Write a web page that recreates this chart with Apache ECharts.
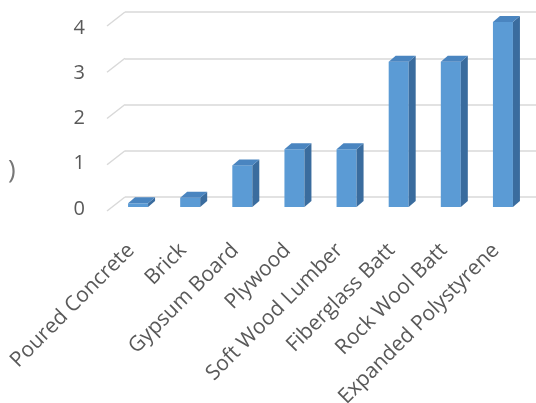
<!DOCTYPE html>
<html>
<head>
<meta charset="utf-8">
<script src="https://cdn.jsdelivr.net/npm/echarts@6/dist/echarts.min.js"></script>
<style>
  html, body { margin: 0; padding: 0; background: #fff; }
  #chart { width: 536px; height: 403px; }
</style>
</head>
<body>
<div id="chart"></div>
<script>
var categories = ['Poured Concrete', 'Brick', 'Gypsum Board', 'Plywood', 'Soft Wood Lumber',
    'Fiberglass Batt', 'Rock Wool Batt', 'Expanded Polystyrene'];
var rValues = [0.08, 0.2, 0.9, 1.25, 1.25, 3.14, 3.14, 4.0];
var yTicks = [0, 1, 2, 3, 4];

var chart = echarts.init(document.getElementById('chart'));
var textColor = '#595959';
var fontName = 'Open Sans';

// 3d looking column: front face, side face, top face
function renderBar(params, api) {
    var idx = api.value(0);
    var top = api.coord([idx, api.value(1)]);
    var base = api.coord([idx, 0]);
    var half = 10, dx = 7, dy = 6;
    var cx = top[0];
    return {
        type: 'group',
        children: [{
            type: 'rect',
            shape: { x: cx - half, y: top[1], width: half * 2, height: base[1] - top[1] },
            style: { fill: '#5b9bd5' }
        }, {
            type: 'polygon',
            shape: { points: [[cx + half, top[1]], [cx + half + dx, top[1] - dy], [cx + half + dx, base[1] - dy], [cx + half, base[1]]] },
            style: { fill: '#3a6c9e' }
        }, {
            type: 'polygon',
            shape: { points: [[cx - half, top[1]], [cx - half + dx, top[1] - dy], [cx + half + dx, top[1] - dy], [cx + half, top[1]]] },
            style: { fill: '#4a85c0' }
        }]
    };
}

// side wall lines going from back wall to the front
function renderWall(params, api) {
    var p = api.coord([0, api.value(0)]);
    return {
        type: 'line',
        shape: { x1: p[0], y1: p[1], x2: p[0] - 18, y2: p[1] + 14 },
        style: { stroke: '#d9d9d9', lineWidth: 1.5 }
    };
}

option = {
    animation: false,
    grid: [
        { left: 112, right: 7, top: 22, bottom: 196, outerBoundsMode: 'none', containLabel: false },
        { left: 125, right: 0, top: 12, bottom: 206, outerBoundsMode: 'none', containLabel: false },
        { left: 112, right: 7, top: 28, bottom: 194, outerBoundsMode: 'none', containLabel: false }
    ],
    xAxis: [{
        type: 'category',
        gridIndex: 0,
        data: categories,
        axisLine: { show: false },
        axisTick: { show: false },
        axisLabel: {
            interval: 0,
            rotate: 45,
            margin: 33,
            padding: [0, 10, 0, 0],
            color: textColor,
            fontFamily: fontName,
            fontSize: 21
        }
    }, {
        type: 'value',
        gridIndex: 1,
        min: 0,
        max: 1,
        show: false
    }, {
        type: 'value',
        gridIndex: 2,
        min: 0,
        max: 1,
        show: false
    }],
    yAxis: [{
        type: 'value',
        gridIndex: 0,
        min: 0,
        max: 4,
        interval: 1,
        show: false
    }, {
        type: 'value',
        gridIndex: 1,
        min: 0,
        max: 4,
        interval: 1,
        axisLine: { show: false },
        axisTick: { show: false },
        axisLabel: { show: false },
        splitLine: { lineStyle: { color: '#d9d9d9', width: 1.5 } }
    }, {
        type: 'value',
        gridIndex: 2,
        min: 0,
        max: 4,
        interval: 1,
        axisLine: { show: false },
        axisTick: { show: false },
        splitLine: { show: false },
        axisLabel: {
            margin: 27,
            color: textColor,
            fontFamily: fontName,
            fontSize: 20
        }
    }],
    graphic: [{
        type: 'text',
        left: 8,
        top: 158,
        style: { text: ')', fill: '#777', font: '26px "Open Sans"' }
    }],
    series: [{
        type: 'custom',
        xAxisIndex: 1,
        yAxisIndex: 1,
        data: yTicks.map(function (v) { return [v]; }),
        encode: { y: 0 },
        renderItem: renderWall,
        silent: true
    }, {
        type: 'custom',
        xAxisIndex: 0,
        yAxisIndex: 0,
        data: rValues.map(function (v, i) { return [i, v]; }),
        encode: { x: 0, y: 1 },
        renderItem: renderBar,
        clip: false
    }]
};

chart.setOption(option);
</script>
</body>
</html>
